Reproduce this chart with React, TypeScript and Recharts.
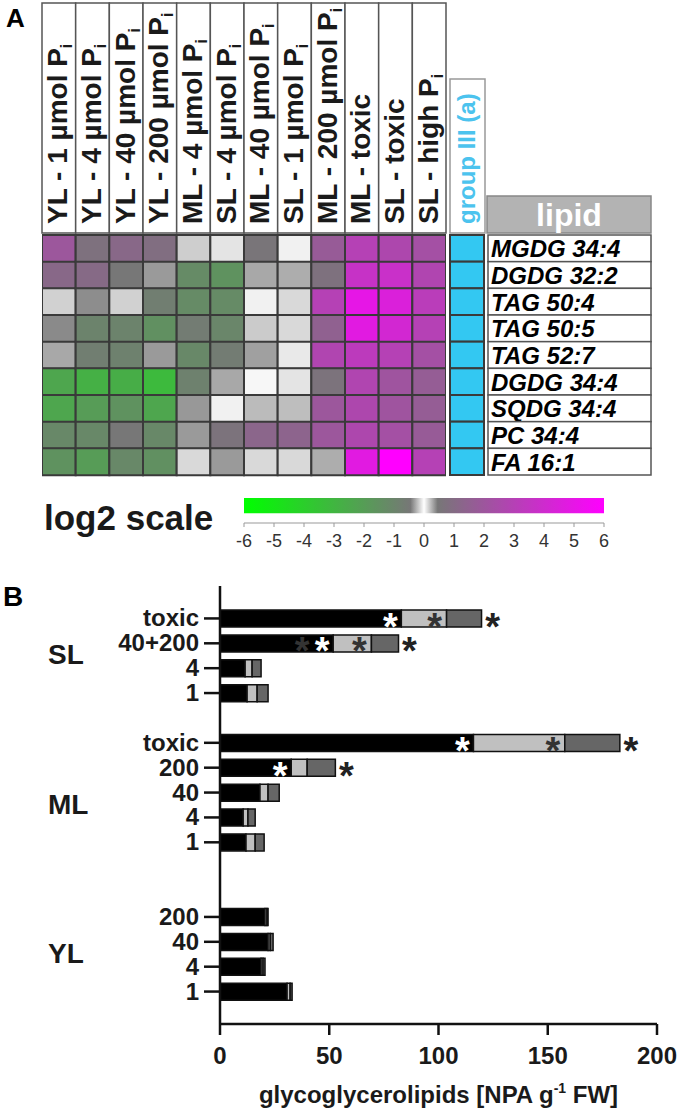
import React from 'react';
import {
  BarChart,
  Bar,
  XAxis,
  YAxis,
  Cell,
  ComposedChart,
  Area,
  LabelList,
  Label,
} from 'recharts';

const FONT = '"Liberation Sans", Arial, Helvetica, sans-serif';
const INK = '#1a1a1a';

// ---- panel A: heat map ----
const conditionLabels = [
  'YL - 1 µmol P', 'YL - 4 µmol P', 'YL - 40 µmol P', 'YL - 200 µmol P',
  'ML - 4 µmol P', 'SL - 4 µmol P', 'ML - 40 µmol P', 'SL - 1 µmol P',
  'ML - 200 µmol P', 'ML - toxic', 'SL - toxic', 'SL - high P',
];
const conditionSubs = ['i', 'i', 'i', 'i', 'i', 'i', 'i', 'i', 'i', '', '', 'i'];

const lipids = [
  'MGDG 34:4', 'DGDG 32:2', 'TAG 50:4', 'TAG 50:5', 'TAG 52:7',
  'DGDG 34:4', 'SQDG 34:4', 'PC 34:4', 'FA 16:1',
];

// log2 fold changes, one list per lipid (columns follow conditionLabels)
const mgdg344 = [2.0, 0.8, 1.2, 0.9, -0.18, 0.1, 0.6, 0.05, 1.8, 3.0, 2.7, 2.3];
const dgdg322 = [1.2, 1.1, -0.5, 0.37, -1.3, -1.6, 0.32, 0.3, 0.8, 3.7, 3.8, 2.8];
const tag504 = [0.17, -0.42, 0.17, -0.8, -1.3, -1.3, 0.05, 0.14, 3.0, 5.0, 4.5, 3.2];
const tag505 = [-0.43, -1.0, -1.0, -1.5, -0.7, -1.1, 0.19, 0.14, 1.5, 4.8, 4.2, 3.0];
const tag527 = [-0.32, -0.8, -0.9, 0.37, -1.2, -0.7, 0.35, 0.08, 2.8, 3.3, 3.0, 2.3];
const dgdg344 = [-2.4, -2.8, -2.7, -3.2, -0.9, -0.32, 0.03, 0.1, 0.7, 2.8, 2.1, 1.7];
const sqdg344 = [-2.4, -2.0, -1.6, -2.4, -0.38, 0.05, 0.25, 0.24, 2.0, 2.7, 2.1, 1.7];
const pc344 = [-1.2, -1.2, -0.5, -1.2, -0.37, 0.7, 1.3, 1.4, 2.0, 2.7, 2.3, 1.8];
const fa161 = [-1.6, -2.0, -1.2, -1.5, -0.14, -0.37, 0.14, 0.14, 0.3, 4.8, 6.0, 3.0];
const heatRows = [mgdg344, dgdg322, tag504, tag505, tag527, dgdg344, sqdg344, pc344, fa161];

const scaleTicks = [-6, -5, -4, -3, -2, -1, 0, 1, 2, 3, 4, 5, 6];

// ---- panel B: stacked bars ----
const rowLabels = ['toxic', '40+200', '4', '1', '', 'toxic', '200', '40', '4', '1', '', '', '200', '40', '4', '1'];
const groupLabels = ['', 'SL', '', '', '', '', '', 'ML', '', '', '', '', '', 'YL', '', ''];
const blackPart = [83, 51.8, 11.5, 12.4, 0, 116, 32.6, 18.3, 10.6, 11.9, 0, 0, 20.6, 22, 18.8, 30.7];
const lightPart = [20.7, 17.5, 3.2, 4.6, 0, 41.8, 7.3, 3.7, 2.2, 4.2, 0, 0, 0.9, 1.0, 0.9, 1.4];
const darkPart = [16, 12.4, 4.1, 5.0, 0, 25.2, 12.9, 5.1, 3.3, 4.1, 0, 0, 0.5, 1.3, 0.9, 0.9];
const blackMarks = ['w', 'dw', '', '', '', 'w', 'w', '', '', '', '', '', '', '', '', ''];
const lightMarks = ['d', 'd', '', '', '', 'd', '', '', '', '', '', '', '', '', '', ''];
const totalMarks = ['t', 't', '', '', '', 't', 't', '', '', '', '', '', '', '', '', ''];
const xTicks = [0, 50, 100, 150, 200];

const mix = (a: number[], b: number[], t: number) =>
  a.map((v, i) => Math.round(v + (b[i] - v) * t));

function log2Color(v: number) {
  const t = Math.min(Math.abs(v), 6);
  const grey = [119, 119, 119];
  const c = t <= 0.5
    ? mix([255, 255, 255], grey, t / 0.5)
    : mix(grey, v < 0 ? [0, 255, 0] : [255, 0, 255], (t - 0.5) / 5.5);
  return `rgb(${c.join(',')})`;
}

const heatData = lipids.map((lipid) => {
  const row: Record<string, any> = { lipid };
  conditionLabels.forEach((_, i) => { row[`c${i}`] = 1; });
  return row;
});

const barData = rowLabels.map((label, i) => ({
  id: `r${i}`,
  black: blackPart[i],
  light: lightPart[i],
  dark: darkPart[i],
  bm: blackMarks[i],
  lm: lightMarks[i],
  tm: totalMarks[i],
}));

const scaleData = scaleTicks.map((v) => ({ v, y: 1 }));

const COL_W = 404 / 12;
const ROW_H = 240 / 9;

const HeaderTick = (props: any) => {
  const { x, payload } = props;
  const i = Math.floor(payload.value);
  return (
    <g>
      <rect x={x - COL_W / 2} y={3} width={COL_W} height={230} fill="#fff" stroke="#555" strokeWidth={1.5} />
      <text
        transform={`translate(${x + 8.5},224) rotate(-90)`}
        fontFamily={FONT}
        fontWeight="bold"
        fontSize={28}
        fill={INK}
      >
        {conditionLabels[i]}
        <tspan fontSize={16} dy={5}>{conditionSubs[i]}</tspan>
      </text>
    </g>
  );
};

const LipidTick = (props: any) => {
  const { y, payload } = props;
  return (
    <g>
      <rect x={450} y={y - ROW_H / 2} width={34} height={ROW_H} fill="#33c8f2" stroke="#3a3a3a" strokeWidth={2} />
      <rect x={488} y={y - ROW_H / 2} width={163} height={ROW_H} fill="#fff" stroke="#555" strokeWidth={1.5} />
      <text x={491} y={y + 9} fontFamily={FONT} fontWeight="bold" fontStyle="italic" fontSize={24} fill="#000">
        {payload.value}
      </text>
    </g>
  );
};

const RowTick = (props: any) => {
  const { y, payload } = props;
  const i = Number(String(payload.value).slice(1));
  const label = rowLabels[i];
  const group = groupLabels[i];
  return (
    <g>
      {label && <line x1={204} x2={220} y1={y} y2={y} stroke="#111" strokeWidth={2.5} />}
      {label && (
        <text x={199} y={y + 8} textAnchor="end" fontFamily={FONT} fontWeight="bold" fontSize={24} fill={INK}>
          {label}
        </text>
      )}
      {group && (
        <text x={48} y={y + 21} fontFamily={FONT} fontWeight="bold" fontSize={28} fill={INK}>
          {group}
        </text>
      )}
    </g>
  );
};

const Star = ({ x, y, fill }: { x: number; y: number; fill: string }) => (
  <text x={x} y={y + 21} textAnchor="middle" fontFamily={FONT} fontWeight="bold" fontSize={38} fill={fill}>
    *
  </text>
);

const box = (p: any) => {
  const vb = p.viewBox && p.viewBox.width !== undefined ? p.viewBox : p;
  return { x: Number(vb.x), y: Number(vb.y), w: Number(vb.width), h: Number(vb.height) };
};

const blackMarkContent = (p: any) => {
  if (!p.value) return null;
  const { x, y, w, h } = box(p);
  const cy = y + h / 2;
  const end = x + w;
  return (
    <g>
      {String(p.value).includes('d') && <Star x={end - 31} y={cy} fill="#333" />}
      {String(p.value).includes('w') && <Star x={end - 11} y={cy} fill="#fff" />}
    </g>
  );
};

const lightMarkContent = (p: any) => {
  if (!p.value) return null;
  const { x, y, w, h } = box(p);
  return <Star x={x + w - 12} y={y + h / 2} fill="#333" />;
};

const totalMarkContent = (p: any) => {
  if (!p.value) return null;
  const { x, y, w, h } = box(p);
  return <Star x={x + w + 11} y={y + h / 2} fill="#222" />;
};

const AxisTitle = (p: any) => {
  const vb = p.viewBox || {};
  return (
    <text x={vb.x + vb.width / 2} y={vb.y + 79} textAnchor="middle" fontFamily={FONT} fontWeight="bold" fontSize={24} fill={INK}>
      glycoglycerolipids [NPA g
      <tspan fontSize={14} dy={-10}>-1</tspan>
      <tspan dy={10}> FW]</tspan>
    </text>
  );
};

export default function App() {
  return (
    <div style={{ position: 'absolute', left: 0, top: 0, width: 678, height: 1110, background: '#fff', fontFamily: FONT }}>
      {/* heat map */}
      <div style={{ position: 'absolute', left: 0, top: 0 }}>
        <BarChart
          width={678}
          height={490}
          data={heatData}
          layout="vertical"
          barCategoryGap={0}
          margin={{ top: 3, right: 27, left: 42, bottom: 15 }}
        >
          <XAxis
            type="number"
            orientation="top"
            domain={[0, 12]}
            allowDataOverflow
            ticks={conditionLabels.map((_, i) => i + 0.5)}
            interval={0}
            height={232}
            axisLine={false}
            tickLine={false}
            tick={<HeaderTick />}
          />
          <YAxis
            type="category"
            dataKey="lipid"
            orientation="right"
            width={205}
            interval={0}
            axisLine={false}
            tickLine={false}
            tick={<LipidTick />}
          />
          {conditionLabels.map((_, ci) => (
            <Bar key={ci} dataKey={`c${ci}`} stackId="h" stroke="#3a3a3a" strokeWidth={2} isAnimationActive={false}>
              {heatRows.map((row, r) => (
                <Cell key={r} fill={log2Color(row[ci])} />
              ))}
            </Bar>
          ))}
        </BarChart>
      </div>

      {/* colour scale */}
      <div style={{ position: 'absolute', left: 0, top: 485 }}>
        <ComposedChart width={678} height={75} data={scaleData} margin={{ top: 13, right: 74, left: 244, bottom: 7 }}>
          <defs>
            <linearGradient id="log2grad" x1="0" y1="0" x2="1" y2="0">
              <stop offset="0" stopColor="#00ff00" />
              <stop offset="0.462" stopColor="#777777" />
              <stop offset="0.5" stopColor="#ffffff" />
              <stop offset="0.538" stopColor="#777777" />
              <stop offset="1" stopColor="#ff00ff" />
            </linearGradient>
          </defs>
          <XAxis
            dataKey="v"
            type="number"
            domain={[-6, 6]}
            ticks={scaleTicks}
            interval={0}
            height={30}
            tickSize={4}
            tickMargin={7}
            axisLine={{ stroke: '#999' }}
            tickLine={{ stroke: '#999' }}
            tick={{ fontSize: 18, fill: '#333', fontFamily: FONT }}
          />
          <YAxis hide domain={[-0.65, 1]} />
          <Area dataKey="y" type="linear" baseValue={0} stroke="none" fill="url(#log2grad)" fillOpacity={1} isAnimationActive={false} />
        </ComposedChart>
      </div>

      {/* stacked bars */}
      <div style={{ position: 'absolute', left: 0, top: 560 }}>
        <BarChart
          width={678}
          height={550}
          data={barData}
          layout="vertical"
          margin={{ top: 26, right: 21, left: 0, bottom: 6 }}
        >
          <XAxis
            type="number"
            domain={[0, 200]}
            ticks={xTicks}
            interval={0}
            height={80}
            tickSize={11}
            tickMargin={12}
            axisLine={{ stroke: '#111', strokeWidth: 2.5 }}
            tickLine={{ stroke: '#111', strokeWidth: 2.5 }}
            tick={{ fontSize: 24, fontWeight: 'bold', fill: INK, fontFamily: FONT }}
          >
            <Label content={<AxisTitle />} />
          </XAxis>
          <XAxis
            xAxisId="top"
            type="number"
            orientation="top"
            domain={[0, 200]}
            height={0}
            tick={false}
            tickLine={false}
            axisLine={{ stroke: '#111', strokeWidth: 2.5 }}
          />
          <YAxis
            type="category"
            dataKey="id"
            width={220}
            interval={0}
            padding={{ top: 20, bottom: 20 }}
            axisLine={{ stroke: '#111', strokeWidth: 2.5 }}
            tickLine={false}
            tick={<RowTick />}
          />
          <YAxis
            yAxisId="right"
            type="category"
            dataKey="id"
            orientation="right"
            width={0}
            tick={false}
            tickLine={false}
            axisLine={{ stroke: '#111', strokeWidth: 2.5 }}
          />
          <Bar dataKey="black" stackId="s" fill="#000" stroke="#111" strokeWidth={1.5} barSize={17} isAnimationActive={false}>
            <LabelList dataKey="bm" content={blackMarkContent} />
          </Bar>
          <Bar dataKey="light" stackId="s" fill="#c0c0c0" stroke="#111" strokeWidth={1.5} barSize={17} isAnimationActive={false}>
            <LabelList dataKey="lm" content={lightMarkContent} />
          </Bar>
          <Bar dataKey="dark" stackId="s" fill="#666" stroke="#111" strokeWidth={1.5} barSize={17} isAnimationActive={false}>
            <LabelList dataKey="tm" content={totalMarkContent} />
          </Bar>
        </BarChart>
      </div>

      {/* panel decorations */}
      <svg width={678} height={1110} style={{ position: 'absolute', left: 0, top: 0, pointerEvents: 'none' }}>
        <text x={6} y={27} fontFamily={FONT} fontWeight="bold" fontSize={26} fill="#000">A</text>
        <rect x={450} y={79} width={35} height={154} fill="#fff" stroke="#999" strokeWidth={1.5} />
        <text
          transform="translate(475,224) rotate(-90)"
          fontFamily={FONT}
          fontWeight="bold"
          fontSize={24}
          fill="#4cc3ee"
        >
          group III (a)
        </text>
        <rect x={487} y={196} width={164} height={37} fill="#b3b3b3" stroke="#888" strokeWidth={1.5} />
        <text x={569} y={226} textAnchor="middle" fontFamily={FONT} fontWeight="bold" fontSize={32} fill="#fff">
          lipid
        </text>
        <text x={44} y={530} fontFamily={FONT} fontWeight="bold" fontSize={35} fill={INK}>log2 scale</text>
        <text x={3} y={606} fontFamily={FONT} fontWeight="bold" fontSize={28} fill="#000">B</text>
      </svg>
    </div>
  );
}
